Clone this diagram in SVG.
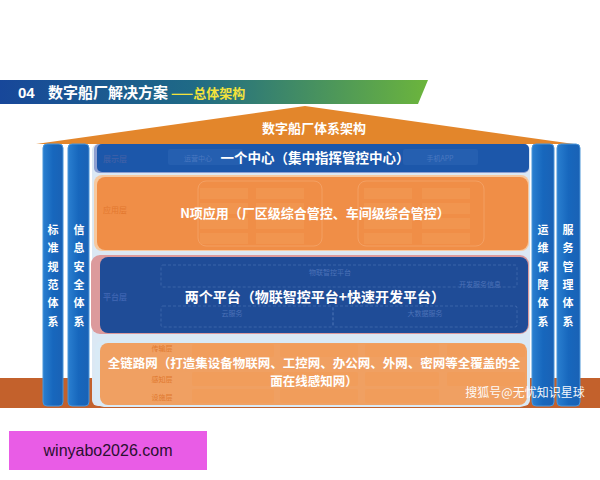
<svg xmlns="http://www.w3.org/2000/svg" width="600" height="480" viewBox="0 0 600 480">
<defs>
<linearGradient id="hdr" x1="0" y1="0" x2="1" y2="0">
<stop offset="0" stop-color="#17479a"/><stop offset="0.45" stop-color="#1f6a86"/><stop offset="1" stop-color="#6cb53c"/>
</linearGradient>
<linearGradient id="pil" x1="0" y1="0" x2="1" y2="0">
<stop offset="0" stop-color="#2a7fd0"/><stop offset="0.5" stop-color="#1767bd"/><stop offset="1" stop-color="#1a62b5"/>
</linearGradient>
<style>
.cjk{font-family:"Noto Sans CJK SC","Liberation Sans",sans-serif}
.big{fill:#fff;font-weight:bold;text-anchor:middle}
.pt{fill:#fff;font-weight:bold;font-size:11px;text-anchor:middle}
.pillar{fill:url(#pil);stroke:#4a95d8;stroke-width:1}
.faintO{fill:#f39a55;opacity:0.55}
.faintB{fill:none;stroke:#5b80bf;stroke-dasharray:3 2;stroke-width:0.8;opacity:0.6}
.ft{font-size:7px;text-anchor:middle}
</style>
</defs>
<rect width="600" height="480" fill="#ffffff"/>
<!-- header -->
<g id="header">
<polygon points="0,80 428,80 418,104 0,104" fill="url(#hdr)"/>
<text x="18" y="98" font-family="Liberation Sans, Arial, sans-serif" font-size="15" font-weight="bold" fill="#ffffff">04</text>
<text x="48" y="98" class="cjk" font-size="15" font-weight="bold" fill="#ffffff">数字船厂解决方案</text>
<text x="171" y="98" class="cjk" font-size="13" font-weight="bold" fill="#f3e23c">——总体架构</text>
</g>
<!-- roof -->
<g id="roof">
<polygon points="305,106 36,144 574,144" fill="#e3862b"/>
<text x="314" y="133" class="cjk big" font-size="13">数字船厂体系架构</text>
</g>
<!-- bottom band -->
<rect x="0" y="378" width="600" height="30" fill="#c3612c"/>
<!-- central frame -->
<rect x="92" y="144" width="438" height="262" rx="6" fill="#dbe8f4"/>
<!-- pillars -->
<g id="pillar-standard">
<rect x="43" y="144" width="20" height="262" rx="4" class="pillar"/>
<text class="cjk pt"><tspan x="53" y="234">标</tspan><tspan x="53" y="252">准</tspan><tspan x="53" y="271">规</tspan><tspan x="53" y="289">范</tspan><tspan x="53" y="307">体</tspan><tspan x="53" y="326">系</tspan></text>
</g>
<g id="pillar-security">
<rect x="68" y="144" width="21" height="262" rx="4" class="pillar"/>
<text class="cjk pt"><tspan x="79" y="234">信</tspan><tspan x="79" y="252">息</tspan><tspan x="79" y="271">安</tspan><tspan x="79" y="289">全</tspan><tspan x="79" y="307">体</tspan><tspan x="79" y="326">系</tspan></text>
</g>
<g id="pillar-ops">
<rect x="532" y="144" width="22" height="262" rx="4" class="pillar"/>
<text class="cjk pt"><tspan x="543" y="234">运</tspan><tspan x="543" y="252">维</tspan><tspan x="543" y="271">保</tspan><tspan x="543" y="289">障</tspan><tspan x="543" y="307">体</tspan><tspan x="543" y="326">系</tspan></text>
</g>
<g id="pillar-service">
<rect x="557" y="144" width="23" height="262" rx="4" class="pillar"/>
<text class="cjk pt"><tspan x="568" y="234">服</tspan><tspan x="568" y="252">务</tspan><tspan x="568" y="271">管</tspan><tspan x="568" y="289">理</tspan><tspan x="568" y="307">体</tspan><tspan x="568" y="326">系</tspan></text>
</g>
<!-- display layer -->
<g id="display-layer">
<rect x="94" y="144" width="435" height="29" rx="5" fill="#8e9fd0"/>
<rect x="97" y="144" width="432" height="28" rx="5" fill="#1c57aa"/>
<rect x="168" y="149" width="75" height="16" rx="2" fill="#2a62b2" opacity="0.7"/>
<rect x="403" y="149" width="75" height="16" rx="2" fill="#2a62b2" opacity="0.7"/>
<text x="103" y="162" class="cjk" font-size="8" font-weight="bold" fill="#3a5fa8">展示层</text>
<text x="198" y="161" class="cjk ft" fill="#4a78c0">运营中心</text>
<text x="440" y="161" class="cjk ft" fill="#4a78c0">手机APP</text>
<text x="315" y="163" class="cjk big" font-size="13.5">一个中心（集中指挥管控中心）</text>
</g>
<!-- application layer -->
<g id="app-layer">
<rect x="94" y="175" width="435" height="76" rx="8" fill="#f6c9a0"/>
<rect x="97" y="177" width="431" height="73" rx="8" fill="#f08e47"/>
<rect x="198" y="181" width="124" height="65" rx="8" fill="none" stroke="#f4a56b" stroke-width="0.8"/>
<rect x="358" y="181" width="126" height="65" rx="8" fill="none" stroke="#f4a56b" stroke-width="0.8"/>
<rect x="200" y="188" width="48" height="11" class="faintO"/><rect x="256" y="188" width="48" height="11" class="faintO"/>
<rect x="200" y="203" width="48" height="11" class="faintO"/><rect x="256" y="203" width="48" height="11" class="faintO"/>
<rect x="200" y="218" width="48" height="11" class="faintO"/><rect x="256" y="218" width="48" height="11" class="faintO"/>
<rect x="200" y="233" width="48" height="11" class="faintO"/><rect x="256" y="233" width="48" height="11" class="faintO"/>
<rect x="364" y="188" width="48" height="11" class="faintO"/><rect x="422" y="188" width="48" height="11" class="faintO"/>
<rect x="364" y="203" width="48" height="11" class="faintO"/><rect x="422" y="203" width="48" height="11" class="faintO"/>
<rect x="364" y="218" width="48" height="11" class="faintO"/><rect x="422" y="218" width="48" height="11" class="faintO"/>
<rect x="364" y="233" width="48" height="11" class="faintO"/><rect x="422" y="233" width="48" height="11" class="faintO"/>
<text x="103" y="213" class="cjk" font-size="8" fill="#e3782f">应用层</text>
<text x="315" y="218" class="cjk big" font-size="13">N项应用（厂区级综合管控、车间级综合管控）</text>
</g>
<!-- platform layer -->
<g id="platform-layer">
<rect x="91" y="255" width="438" height="79" rx="9" fill="#dc9a9c"/>
<rect x="100" y="257" width="428" height="76" rx="8" fill="#1f4c97"/>
<rect x="161" y="265" width="356" height="22" rx="2" class="faintB"/>
<rect x="161" y="306" width="172" height="21" rx="2" class="faintB"/>
<rect x="333" y="306" width="184" height="21" rx="2" class="faintB"/>
<text x="103" y="300" class="cjk" font-size="8" font-weight="bold" fill="#3c63b0">平台层</text>
<text x="330" y="275" class="cjk ft" fill="#4c72b8">物联智控平台</text>
<text x="232" y="316" class="cjk ft" fill="#4c72b8">云服务</text>
<text x="425" y="316" class="cjk ft" fill="#4c72b8">大数据服务</text>
<text x="480" y="287" class="cjk ft" fill="#4c72b8">开发服务信息</text>
<text x="315" y="302" class="cjk big" font-size="14">两个平台（物联智控平台+快速开发平台）</text>
</g>
<!-- network layer -->
<g id="network-layer">
<rect x="95" y="340" width="434" height="67" rx="9" fill="#d9eaf6"/>
<rect x="100" y="343" width="427" height="62" rx="8" fill="#f0a062"/>
<rect x="192" y="344" width="82" height="13" rx="2" class="faintO"/>
<rect x="280" y="344" width="78" height="13" rx="2" class="faintO"/>
<rect x="365" y="344" width="74" height="13" rx="2" class="faintO"/>
<rect x="447" y="344" width="78" height="13" rx="2" class="faintO"/>
<rect x="192" y="372" width="82" height="14" rx="2" class="faintO"/>
<rect x="280" y="372" width="78" height="14" rx="2" class="faintO"/>
<rect x="365" y="372" width="74" height="14" rx="2" class="faintO"/>
<rect x="447" y="372" width="78" height="14" rx="2" class="faintO"/>
<rect x="192" y="389" width="82" height="14" rx="2" class="faintO"/>
<rect x="280" y="389" width="78" height="14" rx="2" class="faintO"/>
<rect x="365" y="389" width="74" height="14" rx="2" class="faintO"/>
<text x="162" y="351" class="cjk" font-size="7" fill="#e0792f" text-anchor="middle">传输层</text>
<text x="162" y="382" class="cjk" font-size="7" fill="#e0792f" text-anchor="middle">感知层</text>
<text x="162" y="400" class="cjk" font-size="7" fill="#e0792f" text-anchor="middle">设施层</text>
<text x="314" y="368" class="cjk big" font-size="12.5">全链路网（打造集设备物联网、工控网、办公网、外网、密网等全覆盖的全</text>
<text x="314" y="386" class="cjk big" font-size="12.5">面在线感知网）</text>
</g>
<text x="525" y="397" class="cjk" font-size="12" fill="#ffffff" text-anchor="middle" opacity="0.95">搜狐号@无忧知识星球</text>
<!-- magenta label -->
<rect x="9" y="431" width="198" height="39" fill="#e95ce6"/>
<text x="108" y="456" font-family="Liberation Sans, Arial, sans-serif" font-size="16" fill="#2a1030" text-anchor="middle">winyabo2026.com</text>
</svg>
